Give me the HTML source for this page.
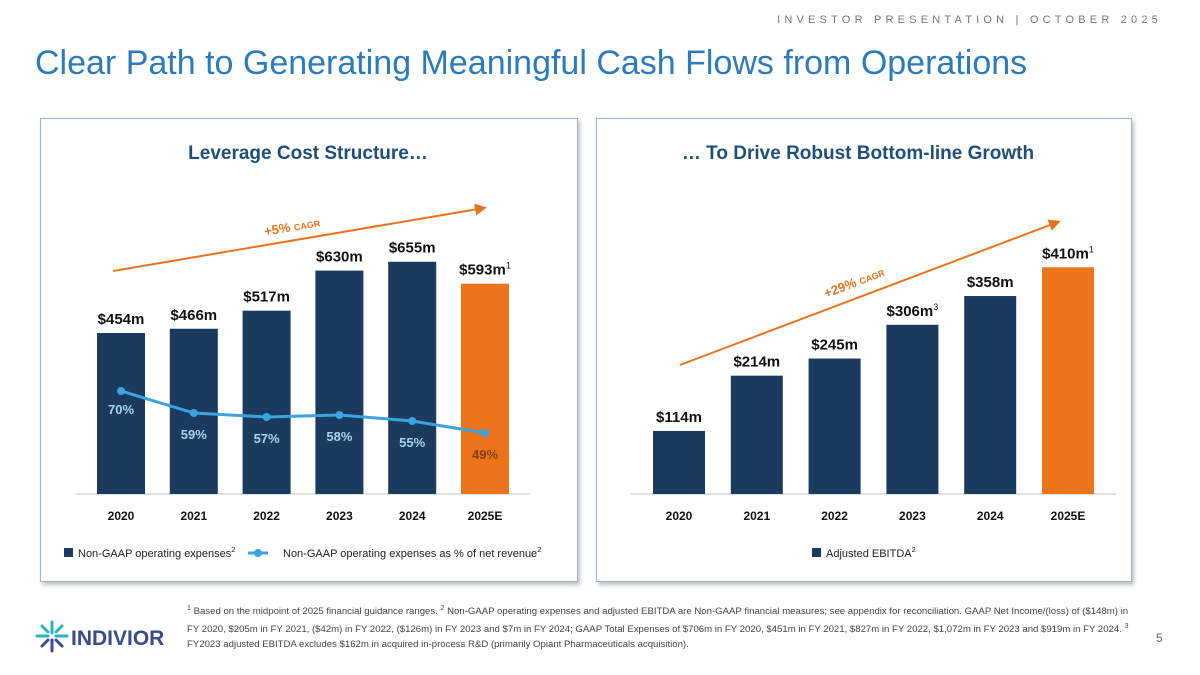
<!DOCTYPE html>
<html><head><meta charset="utf-8"><style>
body{margin:0;width:1200px;height:675px;background:#fff;font-family:"Liberation Sans",sans-serif;position:relative;overflow:hidden}
.hdr{position:absolute;right:38px;top:14px;font-size:11px;letter-spacing:4.2px;color:#777}
.title{position:absolute;left:35px;top:44px;font-size:34px;color:#2c7bbd}
.panel{position:absolute;top:118px;height:462px;border:1.5px solid #94b6dc;box-shadow:2px 3px 4px rgba(0,0,0,.25);background:#fff}
.foot{position:absolute;left:187px;top:601px;width:955px;font-size:9.6px;line-height:15px;color:#444}
.pg{position:absolute;left:1156px;top:631px;font-size:12px;color:#666}
</style></head><body>
<div class="hdr">INVESTOR PRESENTATION | OCTOBER 2025</div>
<div class="title">Clear Path to Generating Meaningful Cash Flows from Operations</div>
<div class="panel" style="left:40px;width:536px"></div>
<div class="panel" style="left:596px;width:534px"></div>
<svg width="1200" height="675" style="position:absolute;left:0;top:0" id="chart">
<defs><marker id="ah" markerWidth="6" markerHeight="6" refX="4.5" refY="3" orient="auto"><path d="M0,0 L6,3 L0,6 z" fill="#e8731e"/></marker></defs>
<g font-family="Liberation Sans, sans-serif" font-weight="bold">
<text x="308" y="159" text-anchor="middle" font-size="19" fill="#1e4e79">Leverage Cost Structure…</text>
<text x="858" y="159" text-anchor="middle" font-size="19" fill="#1e4e79">… To Drive Robust Bottom-line Growth</text>
<line x1="113" y1="271" x2="484" y2="208" stroke="#e8731e" stroke-width="2" marker-end="url(#ah)"/>
<text x="265" y="236" transform="rotate(-10 265 236)" font-size="13" fill="#e8731e">+5% <tspan font-size="9">CAGR</tspan></text>
<line x1="680" y1="365" x2="1058" y2="222" stroke="#e8731e" stroke-width="2" marker-end="url(#ah)"/>
<text x="826" y="298" transform="rotate(-21 826 298)" font-size="13" fill="#e8731e">+29% <tspan font-size="9">CAGR</tspan></text>
</g>
<g id="left"></g><g id="right"></g>
<g font-family="Liberation Sans, sans-serif" font-size="11" fill="#222">
<rect x="64" y="548" width="9" height="9" fill="#1a3a5f"/>
<text x="78" y="557">Non-GAAP operating expenses<tspan font-size="7.5" dy="-5">2</tspan></text>
<line x1="248" y1="553" x2="268" y2="553" stroke="#3ba3e0" stroke-width="3"/><circle cx="258" cy="553" r="4" fill="#3ba3e0"/>
<text x="283" y="557">Non-GAAP operating expenses as % of net revenue<tspan font-size="7.5" dy="-5">2</tspan></text>
<rect x="812" y="548" width="9" height="9" fill="#1a3a5f"/>
<text x="826" y="557">Adjusted EBITDA<tspan font-size="7.5" dy="-5">2</tspan></text>
</g>
<g>
<g stroke-width="3" stroke-linecap="round">
<line x1="52" y1="622" x2="52" y2="633" stroke="#2bb3c0"/><line x1="52" y1="640" x2="52" y2="651" stroke="#3a4a9a"/>
<line x1="37" y1="636" x2="48" y2="636" stroke="#2bb3c0"/><line x1="56" y1="636" x2="67" y2="636" stroke="#2bb3c0"/>
<line x1="42" y1="626" x2="48" y2="632" stroke="#2bb3c0"/><line x1="62" y1="626" x2="56" y2="632" stroke="#2bb3c0"/>
<line x1="42" y1="646" x2="48" y2="640" stroke="#3a4a9a"/><line x1="62" y1="646" x2="56" y2="640" stroke="#3a4a9a"/>
</g>
<text x="71" y="645" font-family="Liberation Sans, sans-serif" font-weight="bold" font-size="21" fill="#3a4a8a">INDIVIOR</text>
</g>
</svg>
<div class="foot"><sup style="font-size:7px">1</sup> Based on the midpoint of 2025 financial guidance ranges. <sup style="font-size:7px">2</sup> Non-GAAP operating expenses and adjusted EBITDA are Non-GAAP financial measures; see appendix for reconciliation. GAAP Net Income/(loss) of ($148m) in FY 2020, $205m in FY 2021, ($42m) in FY 2022, ($126m) in FY 2023 and $7m in FY 2024; GAAP Total Expenses of $706m in FY 2020, $451m in FY 2021, $827m in FY 2022, $1,072m in FY 2023 and $919m in FY 2024. <sup style="font-size:7px">3</sup> FY2023 adjusted EBITDA excludes $162m in acquired in-process R&amp;D (primarily Opiant Pharmaceuticals acquisition).</div>
<div class="pg">5</div>
<script>
const years = ["2020","2021","2022","2023","2024","2025E"];
const opex = [454, 466, 517, 630, 655, 593];
const opexLabels = ["$454m","$466m","$517m","$630m","$655m","$593m"];
const opexSup = ["","","","","","1"];
const opexPct = [70, 59, 57, 58, 55, 49];
const ebitda = [114, 214, 245, 306, 358, 410];
const ebitdaLabels = ["$114m","$214m","$245m","$306m","$358m","$410m"];
const ebitdaSup = ["","","","3","","1"];

const NS = "http://www.w3.org/2000/svg";
function mk(tag, attrs, parent){const e=document.createElementNS(NS,tag);for(const k in attrs)e.setAttribute(k,attrs[k]);parent.appendChild(e);return e;}
const BASE = 494;
function drawBars(g, vals, labels, sups, x0, step, bw, scale, name){
  mk('line',{x1:x0-step*0.62,x2:x0+step*5.62,y1:BASE,y2:BASE,stroke:'#d9d9d9','stroke-width':1.5},g);
  vals.forEach((v,i)=>{
    const cx=x0+i*step, h=v*scale;
    const r=mk('rect',{x:cx-bw/2,y:BASE-h,width:bw,height:h,fill:i===5?'#ec741b':'#1a3a5f'},g);
    
    
    const t=mk('text',{x:cx,y:BASE-h-9,'text-anchor':'middle','font-size':15,'font-weight':'bold',fill:'#111','font-family':'Liberation Sans, sans-serif'},g);
    t.textContent=labels[i];
    if(sups[i]){const s=mk('tspan',{'font-size':9,'font-weight':'normal',dy:-6},t);s.textContent=sups[i];}
    
    
    const y=mk('text',{x:cx,y:BASE+26,'text-anchor':'middle','font-size':12,'font-weight':'bold',fill:'#111','font-family':'Liberation Sans, sans-serif'},g);
    y.textContent=years[i];
    
    
  });
}
const L=document.getElementById('left'), R=document.getElementById('right');
drawBars(L, opex, opexLabels, opexSup, 121, 72.8, 48, 0.3546, 'opex');
drawBars(R, ebitda, ebitdaLabels, ebitdaSup, 679, 77.8, 52, 0.553, 'ebitda');
const py = v => 391 + (70 - v) * 2;
const pts = opexPct.map((v,i)=>(121+i*72.8)+','+py(v)).join(' ');
const pl=mk('polyline',{points:pts,fill:'none',stroke:'#3ba3e0','stroke-width':3},L);


opexPct.forEach((v,i)=>{
  const cx=121+i*72.8;
  const c=mk('circle',{cx:cx,cy:py(v),r:4,fill:'#3ba3e0'},L);
  
  
  const t=mk('text',{x:cx,y:py(v)+(i===0?23:26),'text-anchor':'middle','font-size':13,'font-weight':'bold',fill:i===5?'#8a3d0a':'#a9d4f0','font-family':'Liberation Sans, sans-serif'},L);
  t.textContent=v+'%';
  
  
});
</script>
</body></html>
